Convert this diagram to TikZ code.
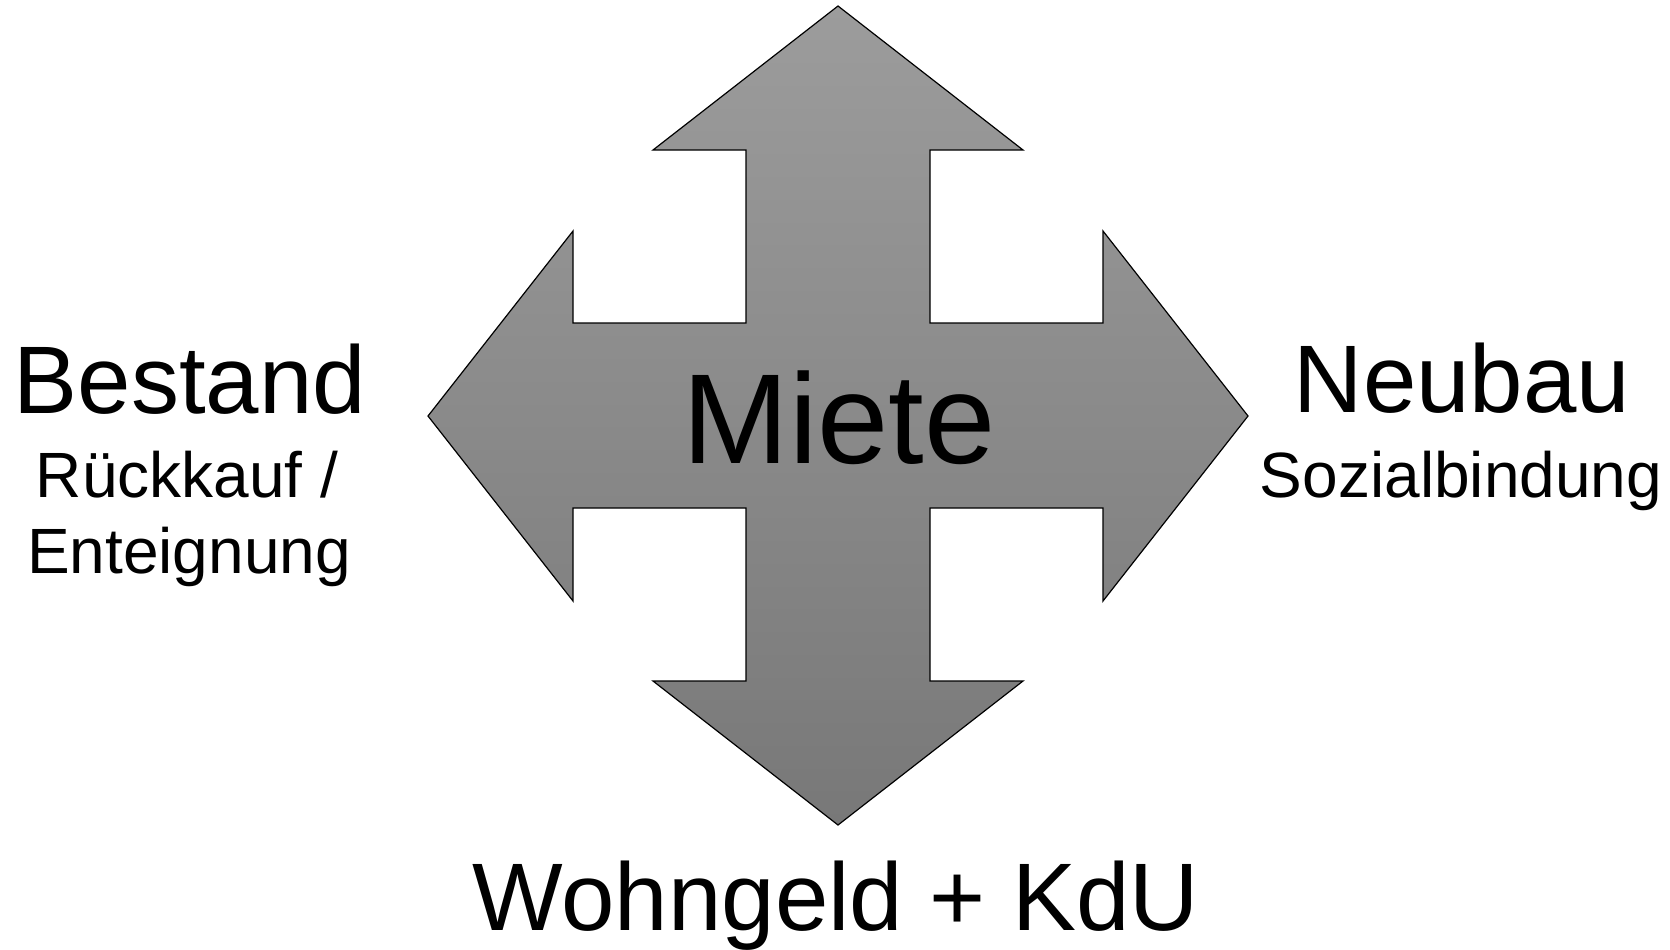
\documentclass[tikz,border=0pt]{standalone}
\usepackage{fontspec}
\setmainfont{Liberation Sans}
\definecolor{gtop}{RGB}{156,156,156}
\definecolor{gbot}{RGB}{120,120,120}
\tikzset{
  big/.style={font=\fontsize{48}{56}\selectfont, anchor=base, inner sep=0pt},
  small/.style={font=\fontsize{32}{38}\selectfont, anchor=base, inner sep=0pt},
  huge/.style={font=\fontsize{64}{76}\selectfont, anchor=base, inner sep=0pt},
  cross/.style={draw=black, line width=0.6pt, top color=gtop, bottom color=gbot, line join=miter}
}
\begin{document}
\begin{tikzpicture}[x=0.5pt, y=-0.5pt]
\useasboundingbox (0,0) rectangle (1670,949);
\path[cross] (838,6) -- (1023,150) -- (930,150) -- (930,323) -- (1103,323) -- (1103,231)
  -- (1248,416) -- (1103,601) -- (1103,508) -- (930,508) -- (930,681) -- (1023,681)
  -- (838,825) -- (653,681) -- (746,681) -- (746,508) -- (573,508) -- (573,601)
  -- (428,416) -- (573,231) -- (573,323) -- (746,323) -- (746,150) -- (653,150) -- cycle;
\node[huge] (miete) at (839,463) {Miete};
\node[big] (bestand) at (190,413) {Bestand};
\node[small] (rueck) at (187,497) {Rückkauf /};
\node[small] (ent) at (189,573) {Enteignung};
\node[big] (neubau) at (1462,412) {Neubau};
\node[small] (sozial) at (1461,497) {Sozialbindung};
\node[big] (wohn) at (836,930) {Wohngeld + KdU};
\end{tikzpicture}
\end{document}
